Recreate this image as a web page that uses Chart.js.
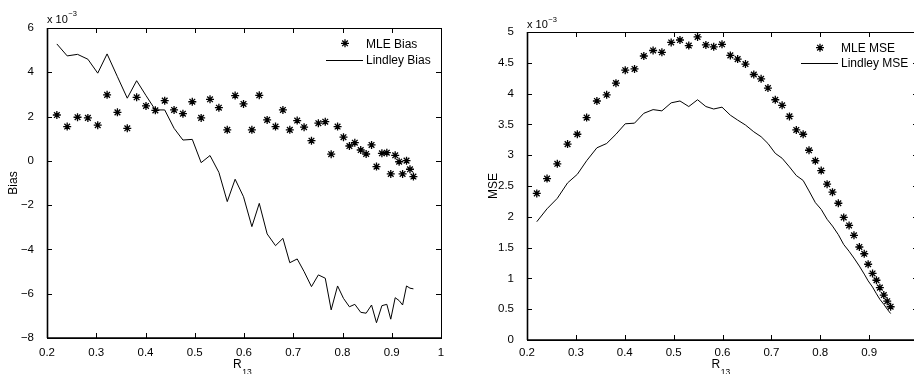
<!DOCTYPE html>
<html>
<head>
<meta charset="utf-8">
<script src="https://cdn.jsdelivr.net/npm/chart.js@4/dist/chart.umd.min.js"></script>
<style>
  html, body { margin: 0; padding: 0; background: #fff; overflow: hidden; width: 914px; height: 374px; }
  #leftBox { position: absolute; left: 0; top: 0; }
  #rightBox { position: absolute; left: 454px; top: 0; }
</style>
</head>
<body>
<div id="leftBox"><canvas id="biasChart" width="460" height="374"></canvas></div>
<div id="rightBox"><canvas id="mseChart" width="470" height="374"></canvas></div>
<script>
// values in units of 10^-3
const r13 = [0.220,0.241,0.262,0.283,0.303,0.322,0.343,0.363,0.382,0.401,
             0.420,0.439,0.458,0.476,0.495,0.513,0.531,0.549,0.566,0.582,
             0.599,0.616,0.631,0.647,0.664,0.679,0.693,0.708,0.722,0.737,
             0.751,0.765,0.777,0.790,0.802,0.814,0.825,0.837,0.848,0.859,
             0.869,0.880,0.890,0.898,0.907,0.915,0.922,0.930,0.937,0.944];

const mleBias = [2.07,1.55,1.97,1.94,1.61,2.98,2.19,1.47,2.87,2.48,
                 2.28,2.72,2.30,2.13,2.67,1.94,2.78,2.40,1.40,2.95,
                 2.57,1.40,2.96,1.85,1.55,2.30,1.40,1.82,1.52,0.91,
                 1.70,1.77,0.30,1.55,1.07,0.67,0.82,0.49,0.31,0.72,
                 -0.26,0.34,0.37,-0.59,0.25,-0.04,-0.59,0.01,-0.38,-0.71];

const lindleyBias = [5.28,4.74,4.81,4.59,3.96,4.83,3.80,2.83,3.62,2.95,
                     2.30,2.30,1.47,0.94,0.97,-0.08,0.24,-0.52,-1.84,-0.83,
                     -1.62,-2.97,-1.92,-3.30,-3.83,-3.50,-4.60,-4.43,-5.00,-5.68,
                     -5.15,-5.30,-6.73,-5.65,-6.21,-6.59,-6.48,-6.84,-6.88,-6.51,
                     -7.31,-6.54,-6.48,-7.15,-6.18,-6.31,-6.51,-5.65,-5.75,-5.78];

const mleMse = [2.38,2.62,2.86,3.18,3.34,3.61,3.88,3.98,4.17,4.38,
                4.40,4.61,4.70,4.67,4.83,4.87,4.78,4.92,4.79,4.76,
                4.80,4.62,4.56,4.48,4.31,4.24,4.09,3.90,3.81,3.63,
                3.41,3.34,3.08,2.91,2.75,2.53,2.40,2.22,1.99,1.86,
                1.70,1.51,1.40,1.23,1.08,0.97,0.85,0.73,0.63,0.54];

const lindleyMse = [1.92,2.13,2.30,2.55,2.69,2.91,3.12,3.19,3.34,3.51,
                    3.52,3.68,3.74,3.72,3.85,3.88,3.79,3.90,3.79,3.75,
                    3.78,3.65,3.57,3.49,3.38,3.30,3.19,3.03,2.95,2.81,
                    2.67,2.59,2.42,2.23,2.12,1.96,1.85,1.71,1.55,1.44,
                    1.33,1.20,1.07,0.96,0.86,0.75,0.66,0.58,0.50,0.43];

const xTicks = [0.2,0.3,0.4,0.5,0.6,0.7,0.8,0.9,1];
const biasTicks = [-8,-6,-4,-2,0,2,4,6];
const mseTicks = [0,0.5,1,1.5,2,2.5,3,3.5,4,4.5,5];

const FONT = '"Liberation Sans", Arial, Helvetica, sans-serif';
Chart.defaults.font.family = FONT;
Chart.defaults.color = '#000';

function pts(xs, ys) {
  return xs.map((x, i) => ({ x: x, y: ys[i] }));
}

function drawStar(ctx, x, y, r) {
  let d = r * Math.SQRT1_2;
  ctx.beginPath();
  ctx.moveTo(x - r, y); ctx.lineTo(x + r, y);
  ctx.moveTo(x, y - r); ctx.lineTo(x, y + r);
  ctx.moveTo(x - d, y - d); ctx.lineTo(x + d, y + d);
  ctx.moveTo(x - d, y + d); ctx.lineTo(x + d, y - d);
  ctx.stroke();
}

// matlab style box, inward ticks, labels and legend
const matlabLook = {
  id: 'matlabLook',
  afterDraw(chart, args, o) {
    let ctx = chart.ctx, a = chart.chartArea;
    let xs = chart.scales.x, ys = chart.scales.y;
    ctx.save();
    ctx.strokeStyle = '#000';
    ctx.lineWidth = 1;
    ctx.beginPath();
    xs.ticks.forEach(t => {
      let px = Math.round(xs.getPixelForValue(t.value)) + 0.5;
      ctx.moveTo(px, a.bottom); ctx.lineTo(px, a.bottom - 5);
      ctx.moveTo(px, a.top); ctx.lineTo(px, a.top + 5);
    });
    ys.ticks.forEach(t => {
      let py = Math.round(ys.getPixelForValue(t.value)) + 0.5;
      ctx.moveTo(a.left, py); ctx.lineTo(a.left + 5, py);
      ctx.moveTo(a.right, py); ctx.lineTo(a.right - 5, py);
    });
    ctx.stroke();
    ctx.strokeRect(Math.round(a.left) + 0.5, Math.round(a.top) + 0.5,
                   Math.round(a.right - a.left), Math.round(a.bottom - a.top));
    ctx.lineWidth = 1.6;
    ctx.beginPath();
    ctx.moveTo(a.left, a.bottom); ctx.lineTo(a.right, a.bottom);
    ctx.moveTo(a.left + 0.5, a.top); ctx.lineTo(a.left + 0.5, a.bottom);
    ctx.stroke();

    ctx.fillStyle = '#000';
    // exponent
    ctx.textAlign = 'left';
    ctx.textBaseline = 'alphabetic';
    ctx.font = '11px ' + FONT;
    ctx.fillText('x 10', a.left, o.expY);
    let w = ctx.measureText('x 10').width;
    ctx.font = '7.5px ' + FONT;
    ctx.fillText('\u22123', a.left + w + 0.5, o.expY - 6.5);

    // x label with subscript
    let cx = (a.left + a.right) / 2 - 11;
    ctx.font = '12px ' + FONT;
    ctx.fillText('R', cx, 368);
    let rw = ctx.measureText('R').width;
    ctx.font = '8.5px ' + FONT;
    ctx.fillText('13', cx + rw + 0.5, 375);

    // y label
    ctx.save();
    ctx.translate(o.ylabelX, (a.top + a.bottom) / 2);
    ctx.rotate(-Math.PI / 2);
    ctx.textAlign = 'center';
    ctx.textBaseline = 'middle';
    ctx.font = '12px ' + FONT;
    ctx.fillText(o.ylabel, 0, 0);
    ctx.restore();

    // legend
    ctx.font = '12px ' + FONT;
    ctx.textBaseline = 'middle';
    ctx.textAlign = 'left';
    o.legend.forEach((item, i) => {
      let y = o.legY[i];
      if (item.kind === 'star') {
        ctx.lineWidth = 1.3;
        drawStar(ctx, o.legText - 21, y, 4);
      } else {
        ctx.lineWidth = 1;
        ctx.beginPath();
        ctx.moveTo(o.legText - 40, Math.round(y) + 0.5);
        ctx.lineTo(o.legText - 3, Math.round(y) + 0.5);
        ctx.stroke();
      }
      ctx.fillText(item.text, o.legText, y + 1);
    });
    ctx.restore();
  }
};

function tickText(v) {
  return String(v).replace('-', '\u2212');
}

function makeChart(id, mle, lindley, yTicks, yMin, yMax, lay, look) {
  return new Chart(document.getElementById(id), {
    type: 'scatter',
    data: {
      datasets: [{
        label: look.legend[0].text,
        data: pts(r13, mle),
        pointStyle: 'star',
        pointRadius: 4,
        pointHoverRadius: 4,
        borderColor: '#000',
        backgroundColor: '#000',
        borderWidth: 1.3,
        showLine: false
      }, {
        label: look.legend[1].text,
        data: pts(r13, lindley),
        showLine: true,
        pointRadius: 0,
        borderColor: '#000',
        borderWidth: 1,
        tension: 0
      }]
    },
    options: {
      responsive: false,
      animation: false,
      devicePixelRatio: 1,
      layout: { padding: { left: 0, right: lay.right, top: lay.top, bottom: 0 } },
      plugins: {
        legend: { display: false },
        tooltip: { enabled: false },
        matlabLook: look
      },
      scales: {
        x: {
          type: 'linear',
          min: 0.2, max: 1,
          afterBuildTicks: s => { s.ticks = xTicks.map(v => ({ value: v })); },
          afterFit: s => { s.height = lay.xh; },
          grid: { display: false },
          border: { display: false },
          ticks: { font: { size: 11.5 }, padding: lay.xpad, maxRotation: 0, callback: v => tickText(v) }
        },
        y: {
          type: 'linear',
          min: yMin, max: yMax,
          afterBuildTicks: s => { s.ticks = yTicks.map(v => ({ value: v })); },
          afterFit: s => { s.width = lay.yw; },
          grid: { display: false },
          border: { display: false },
          ticks: { font: { size: 11.5 }, padding: 5, callback: v => tickText(v) }
        }
      }
    },
    plugins: [matlabLook]
  });
}

let biasChart = makeChart('biasChart', mleBias, lindleyBias, biasTicks, -8, 6,
  { right: 19, top: 28, xh: 36, yw: 47, xpad: 0 },
  { expY: 22.5, ylabelX: 14, legText: 366, legY: [43.3, 60],
    ylabel: 'Bias',
    legend: [{ kind: 'star', text: 'MLE Bias' }, { kind: 'line', text: 'Lindley Bias' }] });

let mseChart = makeChart('mseChart', mleMse, lindleyMse, mseTicks, 0, 5,
  { right: 6, top: 32, xh: 34, yw: 73, xpad: -2 },
  { expY: 28, ylabelX: 40, legText: 387, legY: [47.7, 62.5],
    ylabel: 'MSE',
    legend: [{ kind: 'star', text: 'MLE MSE' }, { kind: 'line', text: 'Lindley MSE' }] });
</script>
</body>
</html>
